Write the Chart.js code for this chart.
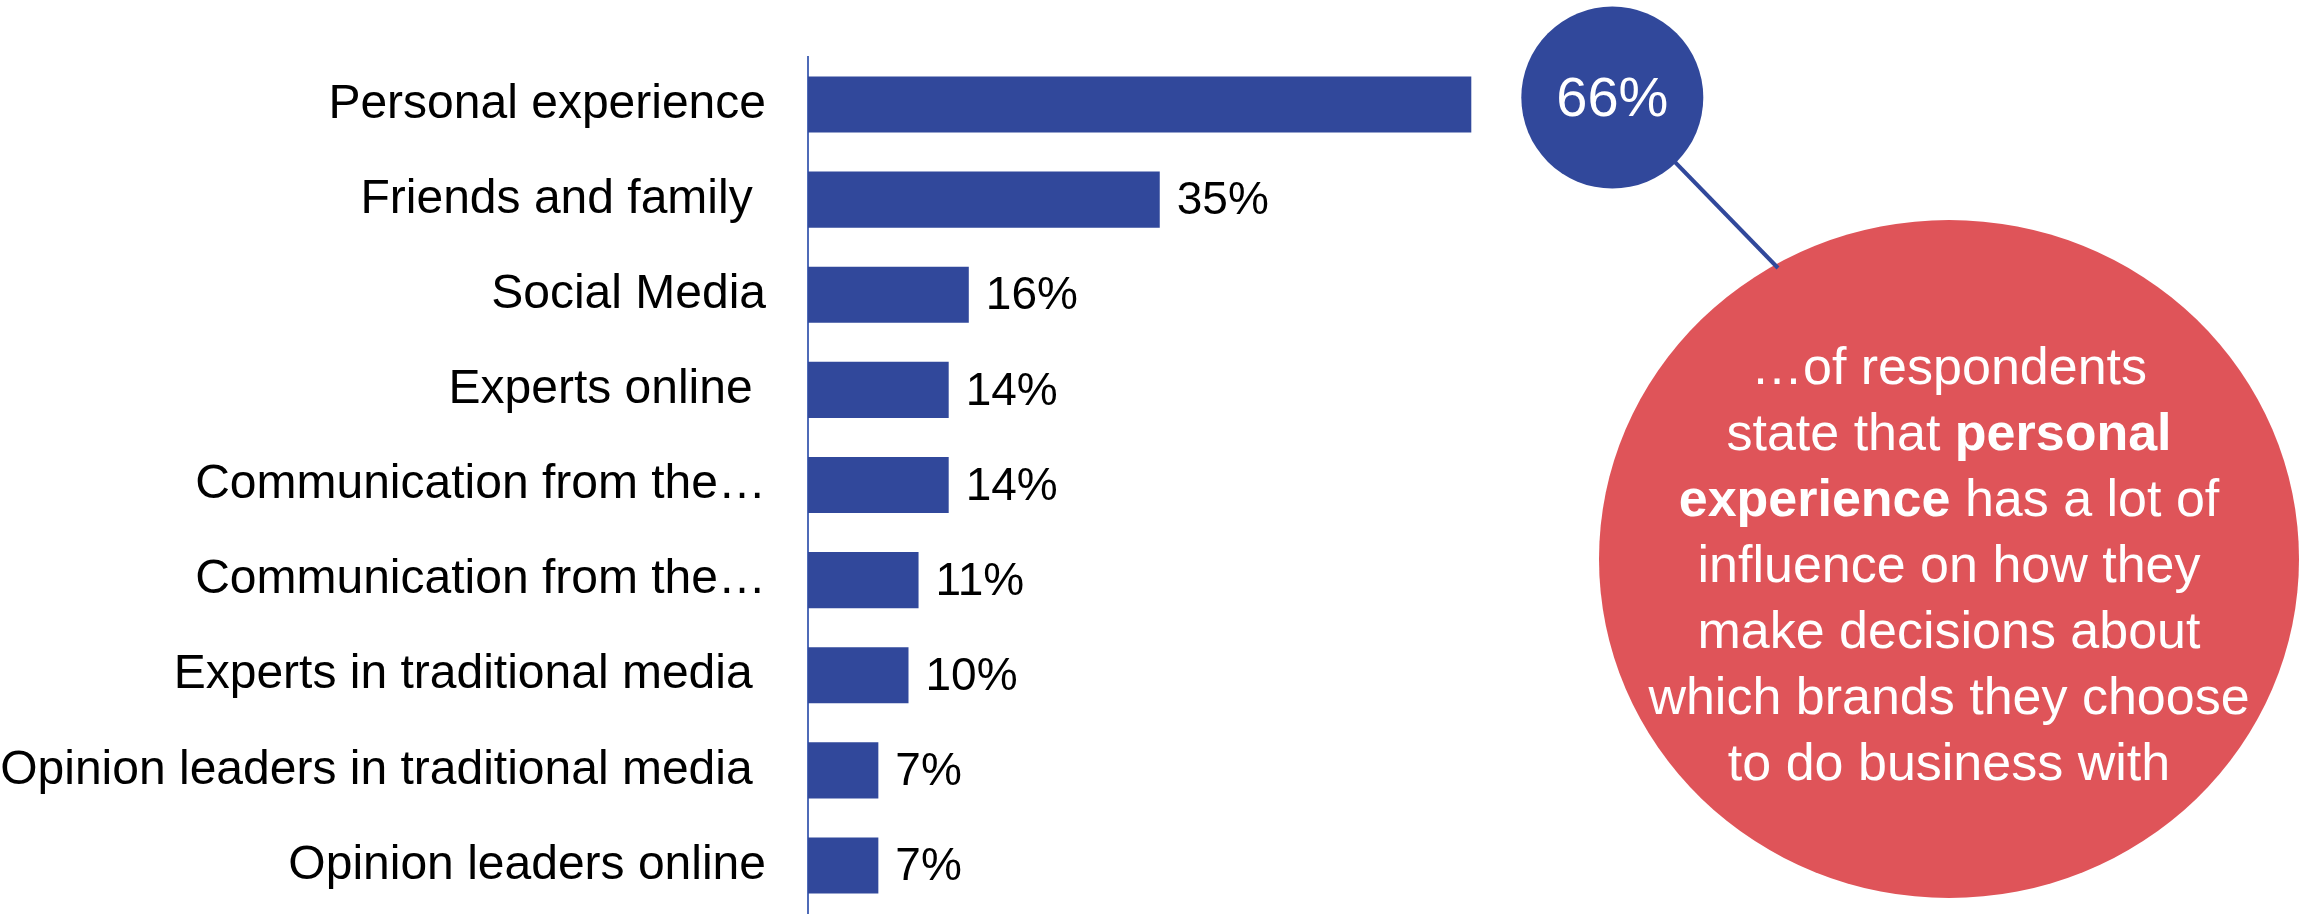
<!DOCTYPE html>
<html>
<head>
<meta charset="utf-8">
<title>Influence on brand decisions</title>
<script src="https://cdn.jsdelivr.net/npm/chart.js@4/dist/chart.umd.min.js"></script>
<style>
    html, body { margin: 0; padding: 0; background: #ffffff; }
    #wrap { width: 2305px; height: 916px; }
</style>
</head>
<body>
<div id="wrap"><canvas id="myChart" width="2305" height="916"></canvas></div>
<script>
// chart data
var categories = [
    'Personal experience',
    'Friends and family ',
    'Social Media',
    'Experts online ',
    'Communication from the…',
    'Communication from the…',
    'Experts in traditional media ',
    'Opinion leaders in traditional media ',
    'Opinion leaders online'
];
var values = [66, 35, 16, 14, 14, 11, 10, 7, 7];

// callout text, one entry per line: [text, bold]
var calloutLines = [
    [['…of respondents', false]],
    [['state that ', false], ['personal', true]],
    [['experience', true], [' has a lot of', false]],
    [['influence on how they', false]],
    [['make decisions about', false]],
    [['which brands they choose', false]],
    [['to do business with', false]]
];

var BLUE = '#31489b';
var RED = '#df5459';
var FONT = '"Liberation Sans", Arial, sans-serif';

// draws value labels, the 66% bubble and the red callout
var calloutPlugin = {
    id: 'callout',
    afterDatasetsDraw: function(chart) {
        var ctx = chart.ctx;
        var bars = chart.getDatasetMeta(0).data;
        ctx.save();

        ctx.font = '46px ' + FONT;
        ctx.fillStyle = '#000000';
        ctx.textAlign = 'left';
        ctx.textBaseline = 'middle';
        for (var i = 1; i < bars.length; i++) {
            ctx.fillText(values[i] + '%', bars[i].x + 17, bars[i].y + 2);
        }

        // red bubble
        var cx = 1949, cy = 559;
        ctx.fillStyle = RED;
        ctx.beginPath();
        ctx.ellipse(cx, cy, 350, 339, 0, 0, Math.PI * 2);
        ctx.fill();

        // connector + blue bubble next to the top bar
        var bx = bars[0].x + 141, by = bars[0].y - 7;
        ctx.strokeStyle = BLUE;
        ctx.lineWidth = 4;
        ctx.beginPath();
        ctx.moveTo(bx, by);
        ctx.lineTo(1778, 268);
        ctx.stroke();

        ctx.fillStyle = BLUE;
        ctx.beginPath();
        ctx.arc(bx, by, 91, 0, Math.PI * 2);
        ctx.fill();

        ctx.fillStyle = '#ffffff';
        ctx.font = '56px ' + FONT;
        ctx.textAlign = 'center';
        ctx.fillText(values[0] + '%', bx, by + 3);

        // callout text
        ctx.textAlign = 'left';
        var y = 370;
        calloutLines.forEach(function(line) {
            var total = 0;
            line.forEach(function(seg) {
                ctx.font = (seg[1] ? 'bold ' : '') + '52px ' + FONT;
                total += ctx.measureText(seg[0]).width;
            });
            var x = cx - total / 2;
            line.forEach(function(seg) {
                ctx.font = (seg[1] ? 'bold ' : '') + '52px ' + FONT;
                ctx.fillText(seg[0], x, y);
                x += ctx.measureText(seg[0]).width;
            });
            y += 66;
        });

        ctx.restore();
    }
};

var ctx = document.getElementById('myChart').getContext('2d');
var chart = new Chart(ctx, {
    type: 'bar',
    data: {
        labels: categories,
        datasets: [{
            data: values,
            backgroundColor: BLUE,
            barPercentage: 0.59,
            categoryPercentage: 1.0
        }]
    },
    options: {
        indexAxis: 'y',
        responsive: false,
        animation: false,
        layout: {
            padding: { left: 0, top: 57, right: 492, bottom: 3 }
        },
        plugins: {
            legend: { display: false },
            tooltip: { enabled: false }
        },
        scales: {
            x: {
                display: false,
                min: 0,
                max: 100
            },
            y: {
                afterFit: function(scale) {
                    // fixed label column, and no extra room above/below for tick text
                    scale.width = 808;
                    scale.paddingTop = 0;
                    scale.paddingBottom = 0;
                },
                grid: { display: false, drawTicks: false },
                border: { display: true, color: '#4f6bb8', width: 2 },
                ticks: {
                    color: '#000000',
                    padding: 42,
                    font: { family: FONT, size: 48 }
                }
            }
        }
    },
    plugins: [calloutPlugin]
});
</script>
</body>
</html>
